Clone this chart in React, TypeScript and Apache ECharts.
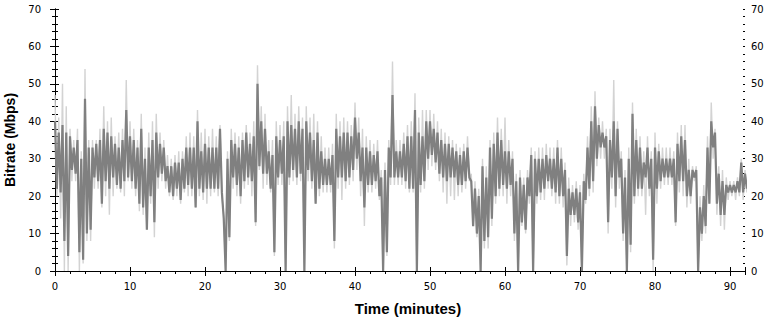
import React, { useEffect, useRef } from "react";
import * as echarts from "echarts";

// Time bins (minutes): bin i starts at i * binStep
const binStep = 0.5;

// Dark trace: per-bin low / high (Mbps)
const darkLow = [
  22, 21, 8, 4, 27, 26, 5, 3, 10, 11,
  25, 24, 18, 24, 22, 25, 23, 22, 24, 25,
  24, 22, 18, 17, 11, 20, 13, 25, 26, 24,
  21, 20, 22, 19, 22, 23, 22, 17, 22, 21,
  22, 22, 22, 22, 21, 0, 9, 25, 23, 20,
  24, 25, 24, 13, 28, 26, 26, 22, 5, 25,
  26, 0, 25, 27, 25, 26, 0, 27, 24, 18,
  22, 23, 23, 23, 8, 25, 25, 24, 25, 27,
  30, 24, 17, 23, 23, 24, 20, 0, 5, 25,
  25, 25, 25, 24, 22, 22, 0, 23, 24, 30,
  31, 29, 26, 25, 24, 25, 25, 23, 23, 24,
  25, 12, 10, 0, 8, 9, 14, 20, 22, 23,
  22, 23, 10, 0, 13, 11, 20, 0, 20, 21,
  22, 24, 22, 21, 20, 20, 4, 15, 15, 13,
  0, 19, 22, 24, 30, 33, 33, 13, 25, 20,
  25, 10, 0, 7, 20, 22, 22, 25, 22, 3,
  22, 24, 25, 25, 25, 13, 24, 24, 20, 20,
  25, 0, 10, 12, 18, 33, 18, 15, 15, 21,
  21, 21, 21, 21, 22,
];
const darkHigh = [
  40, 37, 39, 37, 36, 33, 35, 30, 46, 33,
  33, 34, 35, 38, 37, 36, 34, 33, 35, 43,
  36, 35, 33, 38, 30, 33, 35, 37, 34, 33,
  28, 28, 29, 29, 30, 33, 33, 33, 40, 32,
  34, 33, 33, 33, 38, 14, 30, 35, 34, 33,
  35, 37, 34, 36, 50, 40, 38, 32, 31, 36,
  35, 36, 40, 39, 38, 40, 38, 40, 37, 35,
  37, 32, 30, 30, 31, 38, 36, 37, 37, 36,
  41, 37, 33, 33, 32, 31, 32, 25, 27, 33,
  47, 32, 32, 34, 36, 36, 43, 37, 36, 40,
  40, 38, 37, 35, 34, 34, 33, 32, 31, 32,
  33, 24, 22, 20, 28, 25, 33, 34, 37, 35,
  32, 32, 30, 24, 25, 23, 25, 31, 30, 30,
  30, 31, 30, 30, 33, 30, 27, 22, 21, 22,
  21, 24, 33, 40, 44, 39, 37, 36, 35, 40,
  38, 30, 25, 30, 42, 35, 33, 29, 33, 30,
  33, 32, 30, 30, 30, 30, 34, 36, 35, 27,
  27, 27, 17, 20, 33, 40, 37, 26, 24, 23,
  23, 23, 24, 29, 26,
];

// Light trace: per-bin low / high (Mbps)
const lightLow = [
  20, 14, 0, 0, 24, 24, 0, 2, 8, 8,
  22, 22, 17, 20, 15, 20, 22, 21, 20, 24,
  22, 20, 16, 15, 11, 18, 9, 22, 24, 22,
  20, 19, 20, 18, 21, 20, 20, 17, 20, 19,
  18, 20, 21, 20, 20, 0, 8, 22, 20, 18,
  22, 23, 20, 12, 27, 22, 23, 21, 4, 23,
  23, 0, 23, 24, 23, 24, 0, 24, 22, 18,
  20, 21, 21, 21, 6, 22, 19, 22, 23, 24,
  27, 20, 12, 21, 21, 22, 19, 0, 4, 23,
  23, 23, 23, 22, 21, 21, 0, 21, 22, 27,
  28, 27, 24, 21, 18, 20, 19, 20, 21, 22,
  24, 12, 9, 0, 6, 6, 12, 18, 20, 20,
  18, 20, 8, 0, 12, 10, 18, 0, 18, 19,
  19, 22, 20, 18, 18, 17, 1.5, 12, 13, 11,
  0, 18, 20, 21, 28, 30, 30, 10, 22, 17,
  22, 8, 0, 5, 18, 20, 20, 15, 20, 0,
  18, 22, 23, 23, 23, 12, 21, 20, 17, 18,
  24, 0, 8, 10, 18, 30, 15, 12, 11, 19,
  20, 19, 20, 19, 21,
];
const lightHigh = [
  47, 41, 50, 44, 38, 35, 38, 32, 54, 35,
  35, 35, 38, 44, 40, 41, 36, 37, 38, 51,
  40, 38, 35, 42, 33, 37, 40, 42, 37, 35,
  31, 30, 31, 32, 32, 36, 37, 36, 43, 37,
  38, 36, 38, 36, 39, 15, 32, 38, 37, 36,
  37, 39, 37, 40, 55, 44, 42, 35, 35, 40,
  39, 40, 44, 47, 42, 44, 41, 44, 41, 42,
  40, 36, 33, 33, 34, 42, 40, 41, 40, 39,
  45, 41, 38, 36, 35, 34, 35, 27, 29, 35,
  56, 35, 35, 37, 39, 40, 47.5, 41, 43, 43,
  43, 42, 40, 38, 37, 36, 35, 34, 33, 34,
  36, 26, 24, 22, 30, 28, 35, 37, 41, 38,
  41, 35, 32, 26, 27, 25, 27, 33, 32, 33,
  33, 34, 33, 33, 35, 33, 29, 25, 23, 24,
  23, 26, 36, 44, 48, 41, 40, 38, 38, 51,
  40, 32, 27, 33, 45, 38, 36, 32, 36, 32,
  37, 34, 33, 33, 33, 32, 37, 39, 39, 30,
  28, 28, 20, 23, 36, 45, 38, 28, 27, 25,
  24, 24, 25, 30, 27,
];

// Axis ranges / tick spacing
const xMin = 0;
const xMax = 92;
const xMajor = 10;
const xMinor = 2;
const yMin = 0;
const yMax = 70;
const yMajor = 10;
const yMinor = 2;

function zigzag(lo: number[], hi: number[]): [number, number][] {
  const pts: [number, number][] = [];
  for (let i = 0; i < hi.length; i++) {
    const t = i * binStep;
    pts.push([t, hi[i]]);
    pts.push([t + binStep / 2, lo[i]]);
  }
  return pts;
}

const LABEL_FONT = "DejaVu Sans";
const NAME_FONT = "Liberation Sans, Arial, sans-serif";

export default function App() {
  const ref = useRef<HTMLDivElement>(null);
  useEffect(() => {
    if (!ref.current) return;
    const chart = echarts.init(ref.current, undefined, { renderer: "svg" });
    const black = { color: "#000", width: 1 };
    const xBase = { type: "value" as const, min: xMin, max: xMax, splitLine: { show: false }, gridIndex: 0 };
    const yBase = { type: "value" as const, min: yMin, max: yMax, splitLine: { show: false }, gridIndex: 0 };
    const hidden = { show: false };
    chart.setOption({
      animation: false,
      backgroundColor: "#fff",
      grid: {
        left: 55, right: 32, top: 9, bottom: 51,
        containLabel: false, outerBoundsMode: "none",
      },
      xAxis: [
        {
          ...xBase,
          position: "bottom",
          interval: xMajor,
          axisLine: { show: true, lineStyle: black },
          axisTick: { show: true, inside: false, length: 5, lineStyle: black },
          axisLabel: {
            show: true, color: "#000", fontFamily: LABEL_FONT, fontSize: 10, margin: 10,
            showMaxLabel: false,
          },
          name: "Time (minutes)",
          nameLocation: "middle",
          nameGap: 30,
          nameTextStyle: {
            fontFamily: NAME_FONT, fontWeight: "bold", fontSize: 15, color: "#000",
            padding: [0, 0, 0, 16],
          },
        },
        {
          ...xBase, position: "bottom", interval: xMinor,
          axisLine: hidden, axisLabel: hidden,
          axisTick: { show: true, inside: false, length: 3, lineStyle: black },
        },
        {
          ...xBase, position: "bottom", interval: xMajor,
          axisLine: hidden, axisLabel: { show: false, showMaxLabel: false },
          axisTick: { show: true, inside: true, length: 4, lineStyle: black },
        },
        {
          ...xBase, position: "top", interval: xMajor,
          axisLine: { show: true, lineStyle: black }, axisLabel: hidden,
          axisTick: { show: true, inside: true, length: 4, lineStyle: black },
        },
        {
          ...xBase, position: "top", interval: xMinor,
          axisLine: hidden, axisLabel: hidden,
          axisTick: { show: true, inside: true, length: 2, lineStyle: black },
        },
      ],
      yAxis: [
        {
          ...yBase, position: "left", interval: yMajor,
          axisLine: { show: true, lineStyle: black },
          axisTick: { show: true, inside: false, length: 5, lineStyle: black },
          axisLabel: { show: true, color: "#000", fontFamily: LABEL_FONT, fontSize: 10, margin: 14 },
          name: "Bitrate (Mbps)",
          nameLocation: "middle",
          nameGap: 37,
          nameTextStyle: { fontFamily: NAME_FONT, fontWeight: "bold", fontSize: 14, color: "#000" },
        },
        {
          ...yBase, position: "left", interval: yMinor,
          axisLine: hidden, axisLabel: hidden,
          axisTick: { show: true, inside: false, length: 3, lineStyle: black },
        },
        {
          ...yBase, position: "left", interval: yMinor,
          axisLine: hidden, axisLabel: hidden,
          axisTick: { show: true, inside: true, length: 3, lineStyle: black },
        },
        {
          ...yBase, position: "right", interval: yMajor,
          axisLine: { show: true, lineStyle: black },
          axisTick: { show: true, inside: false, length: 4, lineStyle: black },
          axisLabel: { show: true, color: "#000", fontFamily: LABEL_FONT, fontSize: 10, margin: 6 },
        },
        {
          ...yBase, position: "right", interval: yMinor,
          axisLine: hidden, axisLabel: hidden,
          axisTick: { show: true, inside: false, length: 2, lineStyle: black },
        },
        {
          ...yBase, position: "right", interval: yMinor,
          axisLine: hidden, axisLabel: hidden,
          axisTick: { show: true, inside: true, length: 2, lineStyle: black },
        },
      ],
      series: [
        {
          name: "light",
          type: "line",
          xAxisIndex: 0,
          yAxisIndex: 0,
          data: zigzag(lightLow, lightHigh),
          symbol: "none",
          showSymbol: false,
          silent: true,
          lineStyle: { color: "#d3d3d3", width: 1.4 },
          z: 1,
        },
        {
          name: "dark",
          type: "line",
          xAxisIndex: 0,
          yAxisIndex: 0,
          data: zigzag(darkLow, darkHigh),
          symbol: "none",
          showSymbol: false,
          silent: true,
          lineStyle: { color: "#808080", width: 2.2 },
          z: 2,
        },
      ],
    });
    return () => chart.dispose();
  }, []);
  return (
    <div
      ref={ref}
      style={{ position: "absolute", left: 0, top: 0, width: 777, height: 322, background: "#fff" }}
    />
  );
}
